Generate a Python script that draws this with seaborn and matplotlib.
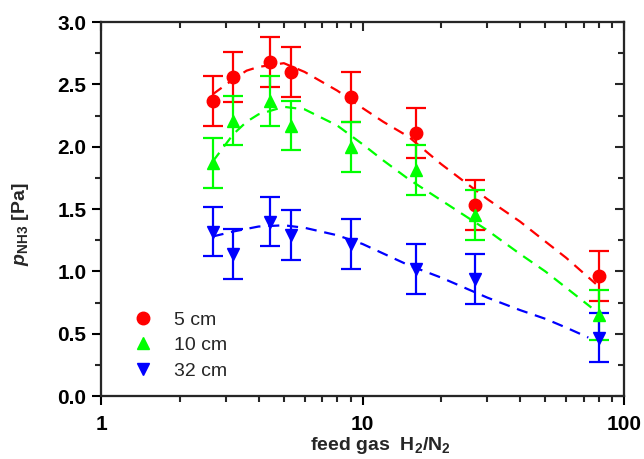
import matplotlib
matplotlib.use('Agg')
import matplotlib.pyplot as plt
from matplotlib.lines import Line2D
from matplotlib.ticker import MultipleLocator, LogLocator, NullFormatter
import pandas as pd
import seaborn as sns

# measured points
feed_ratio = [2.67, 3.2, 4.43, 5.33, 9, 16, 27, 80]
p_5cm = [2.37, 2.56, 2.68, 2.60, 2.40, 2.11, 1.53, 0.96]
p_10cm = [1.87, 2.21, 2.37, 2.17, 2.00, 1.81, 1.45, 0.65]
p_32cm = [1.32, 1.14, 1.40, 1.29, 1.22, 1.02, 0.94, 0.47]
err = [0.2, 0.2, 0.2, 0.2, 0.2, 0.2, 0.2, 0.2]

# dashed model curves
fit_x_5 = [2.67, 3.2, 3.6, 4.0, 5.0, 6.0, 8.0, 10, 12, 15, 20, 30, 40, 50, 60, 78]
fit_y_5 = [2.42, 2.54, 2.61, 2.64, 2.67, 2.60, 2.45, 2.31, 2.20, 2.08, 1.86, 1.58, 1.40, 1.24, 1.11, 0.90]
fit_x_10 = [2.67, 3.2, 3.6, 4.0, 5.0, 6.0, 8.0, 10, 12, 15, 20, 30, 40, 50, 60, 75]
fit_y_10 = [1.88, 2.10, 2.20, 2.26, 2.32, 2.30, 2.17, 2.02, 1.89, 1.74, 1.57, 1.33, 1.14, 1.00, 0.87, 0.71]
fit_x_32 = [2.67, 3.2, 4.0, 5.0, 6.0, 8.0, 10, 15, 20, 30, 40, 50, 60, 73]
fit_y_32 = [1.28, 1.32, 1.36, 1.37, 1.35, 1.29, 1.22, 1.05, 0.95, 0.79, 0.69, 0.62, 0.55, 0.47]

labels = ['5 cm', '10 cm', '32 cm']
rojo = '#FF0000'
verde = '#00FF00'
azul = '#0000FF'

sns.set_style('ticks')
plt.rcParams['font.family'] = ['Liberation Sans', 'DejaVu Sans']
plt.rcParams['mathtext.fontset'] = 'custom'
plt.rcParams['mathtext.rm'] = 'Liberation Sans:bold'
plt.rcParams['mathtext.it'] = 'Liberation Sans:bold:italic'
plt.rcParams['mathtext.bf'] = 'Liberation Sans:bold'

fig = plt.figure(figsize=(6.44, 4.59), dpi=100)
ax = fig.add_axes([0.157, 0.137, 0.812, 0.815])

series = [
    (p_5cm, fit_x_5, fit_y_5, rojo, 'o'),
    (p_10cm, fit_x_10, fit_y_10, verde, '^'),
    (p_32cm, fit_x_32, fit_y_32, azul, 'v'),
]
for vals, fx, fy, col, mk in series:
    fit_df = pd.DataFrame({'x': fx, 'y': fy})
    sns.lineplot(data=fit_df, x='x', y='y', ax=ax, color=col, lw=1.6,
                 dashes=False, linestyle=(0, (5, 3.5)), sort=False)
    ax.errorbar(feed_ratio, vals, yerr=err, fmt=mk, color=col, ms=9,
                elinewidth=1.6, capsize=7, capthick=1.6, zorder=3)

ax.set_xscale('log')
ax.set_xlim(1, 100)
ax.set_ylim(0, 3.0)
ax.yaxis.set_major_locator(MultipleLocator(0.5))
ax.yaxis.set_minor_locator(MultipleLocator(0.25))
ax.xaxis.set_minor_locator(LogLocator(base=10, subs=range(2, 10)))
ax.xaxis.set_minor_formatter(NullFormatter())
ax.set_xticks([1, 10, 100])
ax.set_xticklabels(['1', '10', '100'], fontweight='bold')
ax.set_yticks([0, 0.5, 1.0, 1.5, 2.0, 2.5, 3.0])
ax.set_yticklabels(['0.0', '0.5', '1.0', '1.5', '2.0', '2.5', '3.0'], fontweight='bold')

for s in ax.spines.values():
    s.set_linewidth(1.5)
    s.set_color('black')
ax.tick_params(which='major', direction='out', length=6.5, width=1.5,
               labelsize=15, colors='black')
ax.tick_params(axis='x', which='major', pad=7)
ax.tick_params(axis='y', which='major', pad=4)
ax.tick_params(which='minor', direction='out', length=4, width=1.5)

# inward ticks on top and right
top = ax.twiny()
top.set_xscale('log')
top.set_xlim(1, 100)
top.xaxis.set_minor_locator(LogLocator(base=10, subs=range(2, 10)))
top.tick_params(which='major', direction='in', length=6.5, width=1.5, labeltop=False)
top.tick_params(which='minor', direction='in', length=4, width=1.5)
right = ax.twinx()
right.set_ylim(0, 3.0)
right.yaxis.set_major_locator(MultipleLocator(0.5))
right.yaxis.set_minor_locator(MultipleLocator(0.25))
right.tick_params(which='major', direction='in', length=6.5, width=1.5, labelright=False)
right.tick_params(which='minor', direction='in', length=4, width=1.5)
for a in (top, right):
    for s in a.spines.values():
        s.set_linewidth(1.5)

ax.set_xlabel(r'feed gas  H$_\mathregular{2}$/N$_\mathregular{2}$', fontsize=14, fontweight='bold')
ax.set_ylabel(r'$p$$_\mathregular{NH3}$ [Pa]', fontsize=14, fontweight='bold')
ax.xaxis.set_label_coords(0.535, -0.105)
ax.yaxis.set_label_coords(-0.135, 0.46)

handles = [Line2D([], [], marker=m, color=c, ls='none', ms=9)
           for c, m in [(rojo, 'o'), (verde, '^'), (azul, 'v')]]
ax.legend(handles, labels, loc='lower left', bbox_to_anchor=(0.035, 0.013),
          frameon=False, fontsize=14, labelspacing=0.4, handletextpad=1.0,
          handlelength=1.2, borderaxespad=0.2)

fig.savefig('out.png', dpi=100)
